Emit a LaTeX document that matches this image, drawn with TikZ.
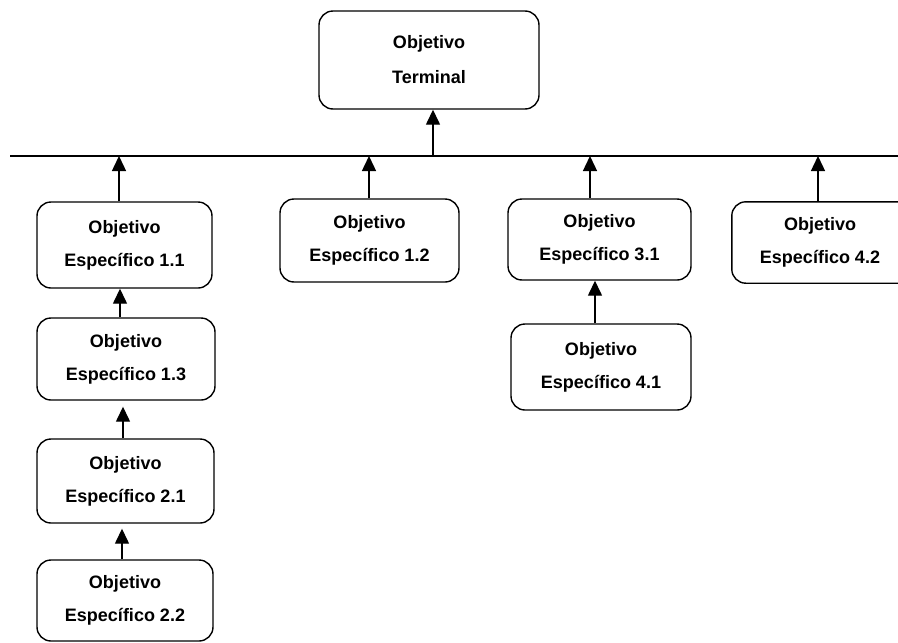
\documentclass[tikz,border=0pt]{standalone}
\usepackage{fontspec}
\setmainfont{Liberation Sans}
\usetikzlibrary{arrows.meta}
\begin{document}
\begin{tikzpicture}[x=1pt,y=-1pt,
  objtext/.style={align=center,inner sep=0pt,font=\bfseries\fontsize{18}{33}\selectfont},
  objbox/.style={objtext,draw,line width=1.4pt,rounded corners=14pt},
  link/.style={line width=1.4pt,-{Triangle[length=15pt,width=14pt]}}]
\useasboundingbox (0,0) rectangle (898,643);
\clip (0,0) rectangle (898,643);

% goal at the top
\node[objbox,minimum width=220pt,minimum height=98pt,font=\bfseries\fontsize{18}{35}\selectfont]
  (term) at (429,60) {Objetivo\\Terminal};

% bus line
\coordinate (busL) at (10,156);
\coordinate (busR) at (898,156);
\draw[line width=1.4pt] (busL) -- (busR);

% specific goals
\node[objbox,minimum width=175pt,minimum height=86pt] (e11) at (124.5,245) {Objetivo\\Específico 1.1};
\node[objbox,minimum width=178pt,minimum height=82pt] (e13) at (126,359) {Objetivo\\Específico 1.3};
\node[objbox,minimum width=177pt,minimum height=84pt] (e21) at (125.5,481) {Objetivo\\Específico 2.1};
\node[objbox,minimum width=176pt,minimum height=81pt] (e22) at (125,600.5) {Objetivo\\Específico 2.2};
\node[objbox,minimum width=179pt,minimum height=83pt] (e12) at (369.5,240.5) {Objetivo\\Específico 1.2};
\node[objbox,minimum width=183pt,minimum height=81pt] (e31) at (599.5,239.5) {Objetivo\\Específico 3.1};
\node[objbox,minimum width=180pt,minimum height=86pt] (e41) at (601,367) {Objetivo\\Específico 4.1};
% this box runs past the right edge of the page
\node[objtext,minimum width=176pt,minimum height=81pt] (e42) at (820,242.5) {Objetivo\\Específico 4.2};
\draw[line width=1.4pt,rounded corners=14pt] (e42.north west) rectangle ([xshift=20pt]e42.south east);

% junctions on the bus
\coordinate (j0) at (433,156);
\coordinate (j11) at (119,156);
\coordinate (j12) at (369,156);
\coordinate (j31) at (590,156);
\coordinate (j42) at (818,156);

% arrows
\draw[link] (j0) -- (j0 |- term.south);
\draw[link] (j11 |- e11.north) -- (j11);
\draw[link] (j12 |- e12.north) -- (j12);
\draw[link] (j31 |- e31.north) -- (j31);
\draw[link] (j42 |- e42.north) -- (j42);

\coordinate (c13) at (120,0);
\coordinate (c21) at (123,0);
\coordinate (c22) at (122,0);
\coordinate (c41) at (595,0);
\draw[link] (c13 |- e13.north) -- (c13 |- e11.south);
\draw[link,shorten >=6pt] (c21 |- e21.north) -- (c21 |- e13.south);
\draw[link,shorten >=5pt] (c22 |- e22.north) -- (c22 |- e21.south);
\draw[link] (c41 |- e41.north) -- (c41 |- e31.south);
\end{tikzpicture}
\end{document}
